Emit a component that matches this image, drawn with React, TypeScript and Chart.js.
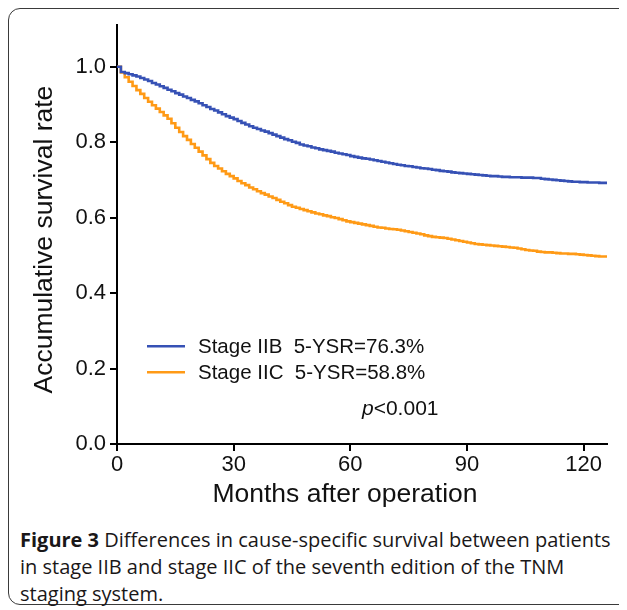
import React, { useEffect, useRef } from "react";
import { Chart, registerables } from "chart.js";

Chart.register(...registerables);

const MONTHS = [
  0, 1, 2, 3, 4, 5, 6, 7, 8, 9, 10, 11, 12, 13, 14, 15, 16, 17, 18, 19,
  20, 21, 22, 23, 24, 25, 26, 27, 28, 29, 30, 31, 32, 33, 34, 35, 36, 37, 38, 39,
  40, 41, 42, 43, 44, 45, 46, 47, 48, 49, 50, 51, 52, 53, 54, 55, 56, 57, 58, 59,
  60, 61, 62, 63, 64, 65, 66, 67, 68, 69, 70, 71, 72, 73, 74, 75, 76, 77, 78, 79,
  80, 81, 82, 83, 84, 85, 86, 87, 88, 89, 90, 91, 92, 93, 94, 95, 96, 97, 98, 99,
  100, 101, 102, 103, 104, 105, 106, 107, 108, 109, 110, 111, 112, 113, 114, 115, 116, 117, 118, 119,
  120, 121, 122, 123, 124, 125, 126,
];

const STAGE_IIB = [
  1.0, 0.986, 0.983, 0.98, 0.977, 0.974, 0.97, 0.966, 0.962, 0.957,
  0.953, 0.948, 0.944, 0.939, 0.935, 0.93, 0.926, 0.921, 0.917, 0.912,
  0.908, 0.903, 0.898, 0.893, 0.888, 0.884, 0.879, 0.874, 0.869, 0.865,
  0.861, 0.856, 0.851, 0.847, 0.842, 0.838, 0.835, 0.831, 0.828, 0.824,
  0.82, 0.816, 0.812, 0.808, 0.805, 0.801, 0.798, 0.794, 0.791, 0.789,
  0.786, 0.784, 0.781, 0.779, 0.777, 0.775, 0.772, 0.77, 0.768, 0.766,
  0.763, 0.761, 0.759, 0.757, 0.756, 0.754, 0.752, 0.75, 0.748, 0.746,
  0.744, 0.742, 0.74, 0.739, 0.737, 0.736, 0.734, 0.733, 0.731, 0.73,
  0.729, 0.727, 0.726, 0.724, 0.723, 0.722, 0.72, 0.719, 0.718, 0.717,
  0.716, 0.715, 0.714, 0.713, 0.712, 0.711, 0.71, 0.71, 0.709, 0.708,
  0.708, 0.707, 0.707, 0.707, 0.706, 0.706, 0.706, 0.705, 0.705, 0.703,
  0.702, 0.701, 0.7, 0.699, 0.698, 0.697, 0.696, 0.695, 0.695, 0.694,
  0.694, 0.693, 0.693, 0.693, 0.692, 0.692, 0.692,
];

const STAGE_IIC = [
  1.0, 0.985, 0.972, 0.96, 0.949, 0.938, 0.928, 0.917, 0.907, 0.898,
  0.889, 0.88, 0.871, 0.862, 0.85, 0.838, 0.827, 0.816, 0.806, 0.795,
  0.785, 0.775, 0.765, 0.755, 0.745, 0.737, 0.73, 0.723, 0.716, 0.71,
  0.704, 0.697, 0.691, 0.686, 0.68, 0.675, 0.67, 0.665, 0.661, 0.656,
  0.652, 0.647, 0.642, 0.638, 0.633, 0.629, 0.626, 0.623, 0.62, 0.617,
  0.614, 0.611, 0.609, 0.606, 0.604, 0.601, 0.599, 0.596, 0.593, 0.59,
  0.588, 0.586, 0.584, 0.582, 0.58, 0.578, 0.576, 0.574, 0.573, 0.571,
  0.57, 0.569, 0.568, 0.566, 0.564, 0.562, 0.56, 0.558, 0.556, 0.553,
  0.551, 0.549, 0.548, 0.547, 0.546, 0.544, 0.542, 0.54, 0.538, 0.536,
  0.534, 0.532, 0.53, 0.529, 0.528, 0.527, 0.526, 0.525, 0.524, 0.523,
  0.522, 0.521, 0.52, 0.518, 0.516, 0.514, 0.513, 0.512, 0.51, 0.509,
  0.508, 0.508, 0.507, 0.506, 0.505, 0.505, 0.504, 0.504, 0.503, 0.502,
  0.501, 0.5, 0.499, 0.498, 0.497, 0.497, 0.496,
];

const X_TICKS = [0, 30, 60, 90, 120];
const Y_TICKS = [0, 0.2, 0.4, 0.6, 0.8, 1.0];
const SERIES_LABELS = ["Stage IIB  5-YSR=76.3%", "Stage IIC  5-YSR=58.8%"];
const SERIES_COLORS = ["#3651b5", "#ff9a16"];
const X_TITLE = "Months after operation";
const Y_TITLE = "Accumulative survival rate";
const P_TEXT = ["p", "<0.001"];

const FONT = "Arial, 'Liberation Sans', Helvetica, sans-serif";

const overlayPlugin = {
  id: "overlay",
  afterDraw(chart: any) {
    const { ctx, chartArea } = chart;
    const { left, top, bottom } = chartArea;
    ctx.save();
    ctx.fillStyle = "#111";
    // Y title
    ctx.save();
    ctx.font = `26.5px ${FONT}`;
    ctx.textAlign = "center";
    ctx.textBaseline = "middle";
    ctx.translate(37, (top + bottom) / 2 + 5);
    ctx.rotate(-Math.PI / 2);
    ctx.fillText(Y_TITLE, 0, 0);
    ctx.restore();
    // X title
    ctx.font = `26.5px ${FONT}`;
    ctx.textAlign = "center";
    ctx.textBaseline = "middle";
    ctx.fillText(X_TITLE, left + 228, bottom + 51);
    // Legend
    ctx.font = `20.5px ${FONT}`;
    ctx.textAlign = "left";
    ctx.textBaseline = "middle";
    SERIES_LABELS.forEach((lab, i) => {
      const y = top + 321 + i * 26;
      ctx.strokeStyle = SERIES_COLORS[i];
      ctx.lineWidth = 2.5;
      ctx.beginPath();
      ctx.moveTo(left + 30, y);
      ctx.lineTo(left + 68, y);
      ctx.stroke();
      ctx.fillStyle = "#111";
      ctx.fillText(lab, left + 81, y + 1);
    });
    // p value
    const py = top + 384;
    ctx.font = `italic 21px ${FONT}`;
    const pw = ctx.measureText(P_TEXT[0]).width;
    ctx.fillText(P_TEXT[0], left + 245, py);
    ctx.font = `21px ${FONT}`;
    ctx.fillText(P_TEXT[1], left + 245 + pw, py);
    ctx.restore();
  },
};

export default function App() {
  const canvasRef = useRef<HTMLCanvasElement | null>(null);

  useEffect(() => {
    if (!canvasRef.current) return;
    const chart = new Chart(canvasRef.current, {
      type: "line",
      data: {
        datasets: [STAGE_IIB, STAGE_IIC].map((vals, i) => ({
          label: SERIES_LABELS[i],
          data: MONTHS.map((m, j) => ({ x: m, y: vals[j] })),
          borderColor: SERIES_COLORS[i],
          backgroundColor: SERIES_COLORS[i],
          borderWidth: 2.6,
          pointRadius: 0,
          stepped: true,
          fill: false,
        })),
      },
      options: {
        animation: false,
        responsive: false,
        maintainAspectRatio: false,
        layout: { padding: { top: 17, right: 20, left: 0, bottom: 0 } },
        plugins: {
          legend: { display: false },
          tooltip: { enabled: false },
          title: { display: false },
        },
        scales: {
          x: {
            type: "linear",
            min: 0,
            max: 126,
            afterBuildTicks: (s: any) => {
              s.ticks = X_TICKS.map((v) => ({ value: v }));
            },
            afterFit: (s: any) => {
              s.height = 74;
            },
            ticks: {
              color: "#111",
              font: { family: FONT, size: 22 },
              padding: 1,
              maxRotation: 0,
              callback: (v: any) => String(v),
            },
            grid: {
              display: true,
              drawOnChartArea: false,
              drawTicks: true,
              tickLength: 7,
              color: "#000",
              lineWidth: 2,
            },
            border: { display: true, color: "#000", width: 2 },
          },
          y: {
            type: "linear",
            min: 0,
            max: 1.11,
            afterBuildTicks: (s: any) => {
              s.ticks = Y_TICKS.map((v) => ({ value: v }));
            },
            afterFit: (s: any) => {
              s.width = 109;
            },
            ticks: {
              color: "#111",
              font: { family: FONT, size: 22 },
              padding: 4,
              callback: (v: any) => Number(v).toFixed(1),
            },
            grid: {
              display: true,
              drawOnChartArea: false,
              drawTicks: true,
              tickLength: 7,
              color: "#000",
              lineWidth: 2,
            },
            border: { display: true, color: "#000", width: 2 },
          },
        },
      },
      plugins: [overlayPlugin],
    });
    return () => chart.destroy();
  }, []);

  return (
    <div style={{ position: "relative", width: 619, height: 598, overflow: "hidden" }}>
      <div
        style={{
          position: "absolute",
          left: 0,
          top: 0,
          width: 660,
          height: 597,
          boxSizing: "border-box",
          border: "1.5px solid #3a3a3a",
          borderRadius: 12,
        }}
      />
      <canvas
        ref={canvasRef}
        width={619}
        height={510}
        style={{ position: "absolute", left: 0, top: 0, width: 619, height: 510 }}
      />
      <div
        style={{
          position: "absolute",
          left: 12,
          top: 518,
          width: 598,
          fontFamily: "'Open Sans', sans-serif",
          fontSize: 20,
          lineHeight: "27px",
          color: "#1a1718",
        }}
      >
        <b>Figure 3</b> Differences in cause-specific survival between patients in stage IIB and
        stage IIC of the seventh edition of the TNM staging system.
      </div>
    </div>
  );
}
